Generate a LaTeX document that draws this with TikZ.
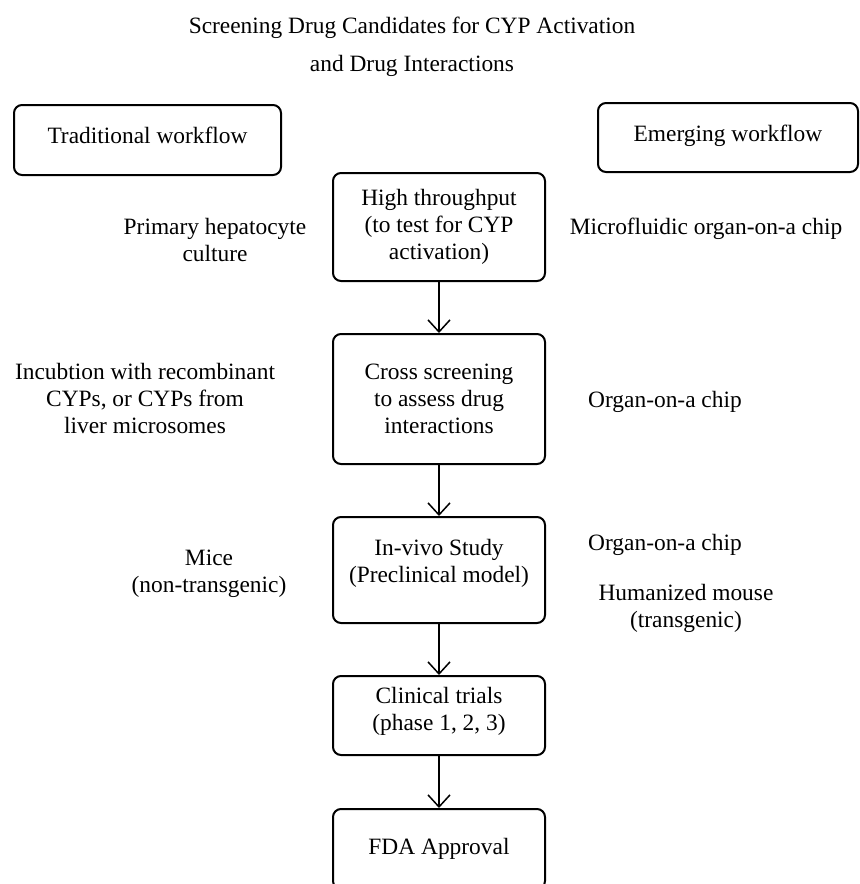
\documentclass[tikz,border=0pt]{standalone}
\usepackage{fontspec}
\setmainfont{Liberation Serif}
\usepackage{tikz}
\usetikzlibrary{positioning,arrows.meta}
\tikzset{
	every node/.style={font=\fontsize{11.7}{13.5}\selectfont},
	box/.style={draw,line width=1pt,rounded corners=4pt,align=center,minimum width=106pt},
	flow/.style={box,minimum height=35pt},
	arr/.style={line width=0.75pt,-{Straight Barb[length=6pt,width=11pt]}},
}

\begin{document}
\begin{tikzpicture}[x=0.5pt,y=-0.5pt]
		\useasboundingbox (0,0) rectangle (860,884);
		\clip (0,0) rectangle (860,884);
		\node(title) [align=center] at (412,47) {Screening Drug Candidates for CYP Activation\\[5.5pt]and Drug Interactions};
		\node(trad) [flow,minimum width=133.5pt,text depth=5pt] at (147.5,140) {Traditional workflow};
		\node(emer) [flow,minimum width=130pt,minimum height=34.5pt,text depth=4pt] at (728,137.5) {Emerging workflow};
		\node(hts) [box,minimum height=54pt] at (439,227) {High throughput\\(to test for CYP\\activation)};
		\node(cross) [box,minimum height=65pt,below=25.5pt of hts] {Cross screening\\to assess drug\\interactions};
		\node(vivo) [box,minimum height=53pt,text depth=9.6pt,below=25.5pt of cross] {In-vivo Study\\(Preclinical model)};
		\node(clin) [box,minimum height=39.5pt,text depth=7pt,below=25.5pt of vivo] {Clinical trials\\(phase 1, 2, 3)};
		\node(fda) [box,minimum height=40pt,below=26pt of clin] {FDA Approval};
		\path[arr]
			(hts) edge (cross)
			(cross) edge (vivo)
			(vivo) edge (clin)
			(clin) edge (fda);
		\node(phc) [align=center] at (215,240) {Primary hepatocyte\\culture};
		\node(incub) [align=center] at (145,398) {Incubtion with recombinant\\CYPs, or CYPs from\\liver microsomes};
		\node(mice) [align=center] at (209,574) {Mice\\(non-transgenic)};
		\node(mfoc) at (706,229) {Microfluidic organ-on-a chip};
		\node(ooc) at (665,402) {Organ-on-a chip};
		\node(oocb) at (665,545) {Organ-on-a chip};
		\node(hmouse) [align=center] at (686,608) {Humanized mouse\\(transgenic)};
	\end{tikzpicture}
\end{document}
